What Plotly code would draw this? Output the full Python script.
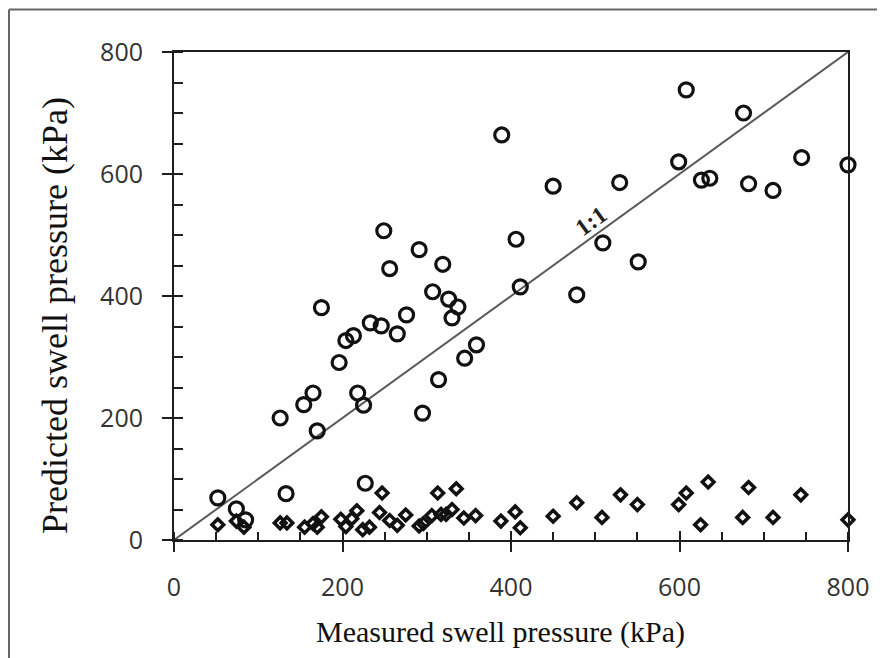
import plotly.graph_objects as go

# Circles series (measured, predicted)
circle_measured = [52, 74, 85, 126, 133, 154, 165, 170, 175, 196, 204, 213, 218, 225, 227,
                   233, 246, 249, 256, 265, 276, 291, 295, 307, 314, 319, 326, 330, 337, 345,
                   359, 389, 406, 411, 450, 478, 509, 529, 551, 599, 608, 626, 636, 676, 682,
                   711, 745, 800]
circle_predicted = [69, 51, 33, 200, 76, 222, 241, 179, 381, 291, 327, 335, 241, 221, 93,
                    356, 351, 507, 445, 338, 369, 476, 208, 407, 263, 452, 395, 364, 382, 298,
                    320, 664, 493, 415, 580, 402, 487, 586, 456, 620, 738, 590, 593, 700, 584,
                    573, 627, 615]

# Diamonds series (measured, predicted)
diamond_measured = [52, 74, 83, 126, 134, 155, 165, 170, 175, 198, 204, 211, 217, 224, 232,
                    244, 247, 256, 265, 275, 291, 296, 306, 313, 317, 323, 330, 335, 344, 358,
                    388, 405, 411, 450, 478, 508, 530, 550, 599, 608, 625, 634, 675, 682, 711,
                    744, 800]
diamond_predicted = [25, 31, 21, 28, 28, 21, 27, 21, 38, 34, 22, 35, 48, 17, 21,
                     45, 77, 32, 24, 41, 23, 27, 40, 77, 42, 42, 50, 84, 36, 40,
                     31, 46, 20, 39, 61, 37, 74, 58, 58, 77, 25, 95, 37, 86, 37,
                     74, 33]

diag = [0, 800]
tick_vals = [0, 200, 400, 600, 800]
tick_text = ["0", "200", "400", "600", "800"]

AX = "#1e1e1e"
fig = go.Figure()

fig.add_trace(go.Scatter(x=diag, y=diag, mode="lines",
                         line=dict(color="#5a5a5a", width=2), hoverinfo="skip",
                         showlegend=False))
fig.add_trace(go.Scatter(x=diamond_measured, y=diamond_predicted, mode="markers",
                         marker=dict(symbol="diamond-open", size=9, color="#111",
                                     line=dict(width=3.5, color="#111")),
                         cliponaxis=False, showlegend=False))
fig.add_trace(go.Scatter(x=circle_measured, y=circle_predicted, mode="markers",
                         marker=dict(symbol="circle-open", size=14, color="#111",
                                     line=dict(width=3.2, color="#111")),
                         cliponaxis=False, showlegend=False))
# dummy trace for the overlay axes (inner half of major ticks)
fig.add_trace(go.Scatter(x=[0], y=[0], xaxis="x2", yaxis="y2", mode="markers",
                         marker=dict(opacity=0), hoverinfo="skip", showlegend=False))

tickfont = dict(family="Open Sans", size=25, color="#333333")

fig.update_layout(
    width=885, height=658,
    margin=dict(l=166, r=45, t=44, b=126),
    paper_bgcolor="white", plot_bgcolor="white",
    xaxis=dict(range=[0, 800], tickvals=tick_vals, ticktext=tick_text,
               ticks="outside", ticklen=10, tickwidth=2, tickcolor=AX,
               minor=dict(ticks="inside", ticklen=8, tickwidth=2, tickcolor=AX, dtick=50, tick0=0),
               showline=True, linecolor=AX, linewidth=2, mirror=True,
               showgrid=False, zeroline=False, tickfont=tickfont, ticklabelstandoff=14),
    yaxis=dict(range=[0, 800], tickvals=tick_vals, ticktext=tick_text,
               ticks="outside", ticklen=10, tickwidth=2, tickcolor=AX,
               minor=dict(ticks="inside", ticklen=9, tickwidth=2, tickcolor=AX, dtick=50, tick0=0),
               showline=True, linecolor=AX, linewidth=2, mirror=True,
               showgrid=False, zeroline=False, tickfont=tickfont, ticklabelstandoff=14),
    xaxis2=dict(range=[0, 800], overlaying="x", anchor="y", side="bottom",
                tickvals=tick_vals, ticks="inside", ticklen=9, tickwidth=2, tickcolor=AX,
                showticklabels=False, showline=False, showgrid=False, zeroline=False),
    yaxis2=dict(range=[0, 800], overlaying="y", anchor="x", side="left",
                tickvals=tick_vals, ticks="inside", ticklen=9, tickwidth=2, tickcolor=AX,
                showticklabels=False, showline=False, showgrid=False, zeroline=False),
    annotations=[
        dict(text="Predicted swell pressure (kPa)", xref="paper", yref="paper",
             x=-0.1766, y=0.461, xanchor="center", yanchor="middle",
             showarrow=False, textangle=-90,
             font=dict(family="Liberation Serif", size=36, color="#111")),
        dict(text="Measured swell pressure (kPa)", xref="paper", yref="paper",
             x=0.4837, y=-0.1885, xanchor="center", yanchor="middle", showarrow=False,
             font=dict(family="Liberation Serif", size=30, color="#111")),
        dict(text="<b>1:1</b>", xref="x", yref="y", x=495, y=523, showarrow=False,
             xanchor="center", yanchor="middle",
             textangle=-36, font=dict(family="Liberation Serif", size=24, color="#222")),
    ],
    shapes=[
        dict(type="line", xref="paper", yref="paper", x0=-0.2448, x1=1.2, y0=1.0871, y1=1.0871,
             line=dict(color="#666", width=2)),
        dict(type="line", xref="paper", yref="paper", x0=-0.2448, x1=-0.2448, y0=-0.3, y1=1.0871,
             line=dict(color="#666", width=2)),
    ],
)

fig.write_html("out.html")
